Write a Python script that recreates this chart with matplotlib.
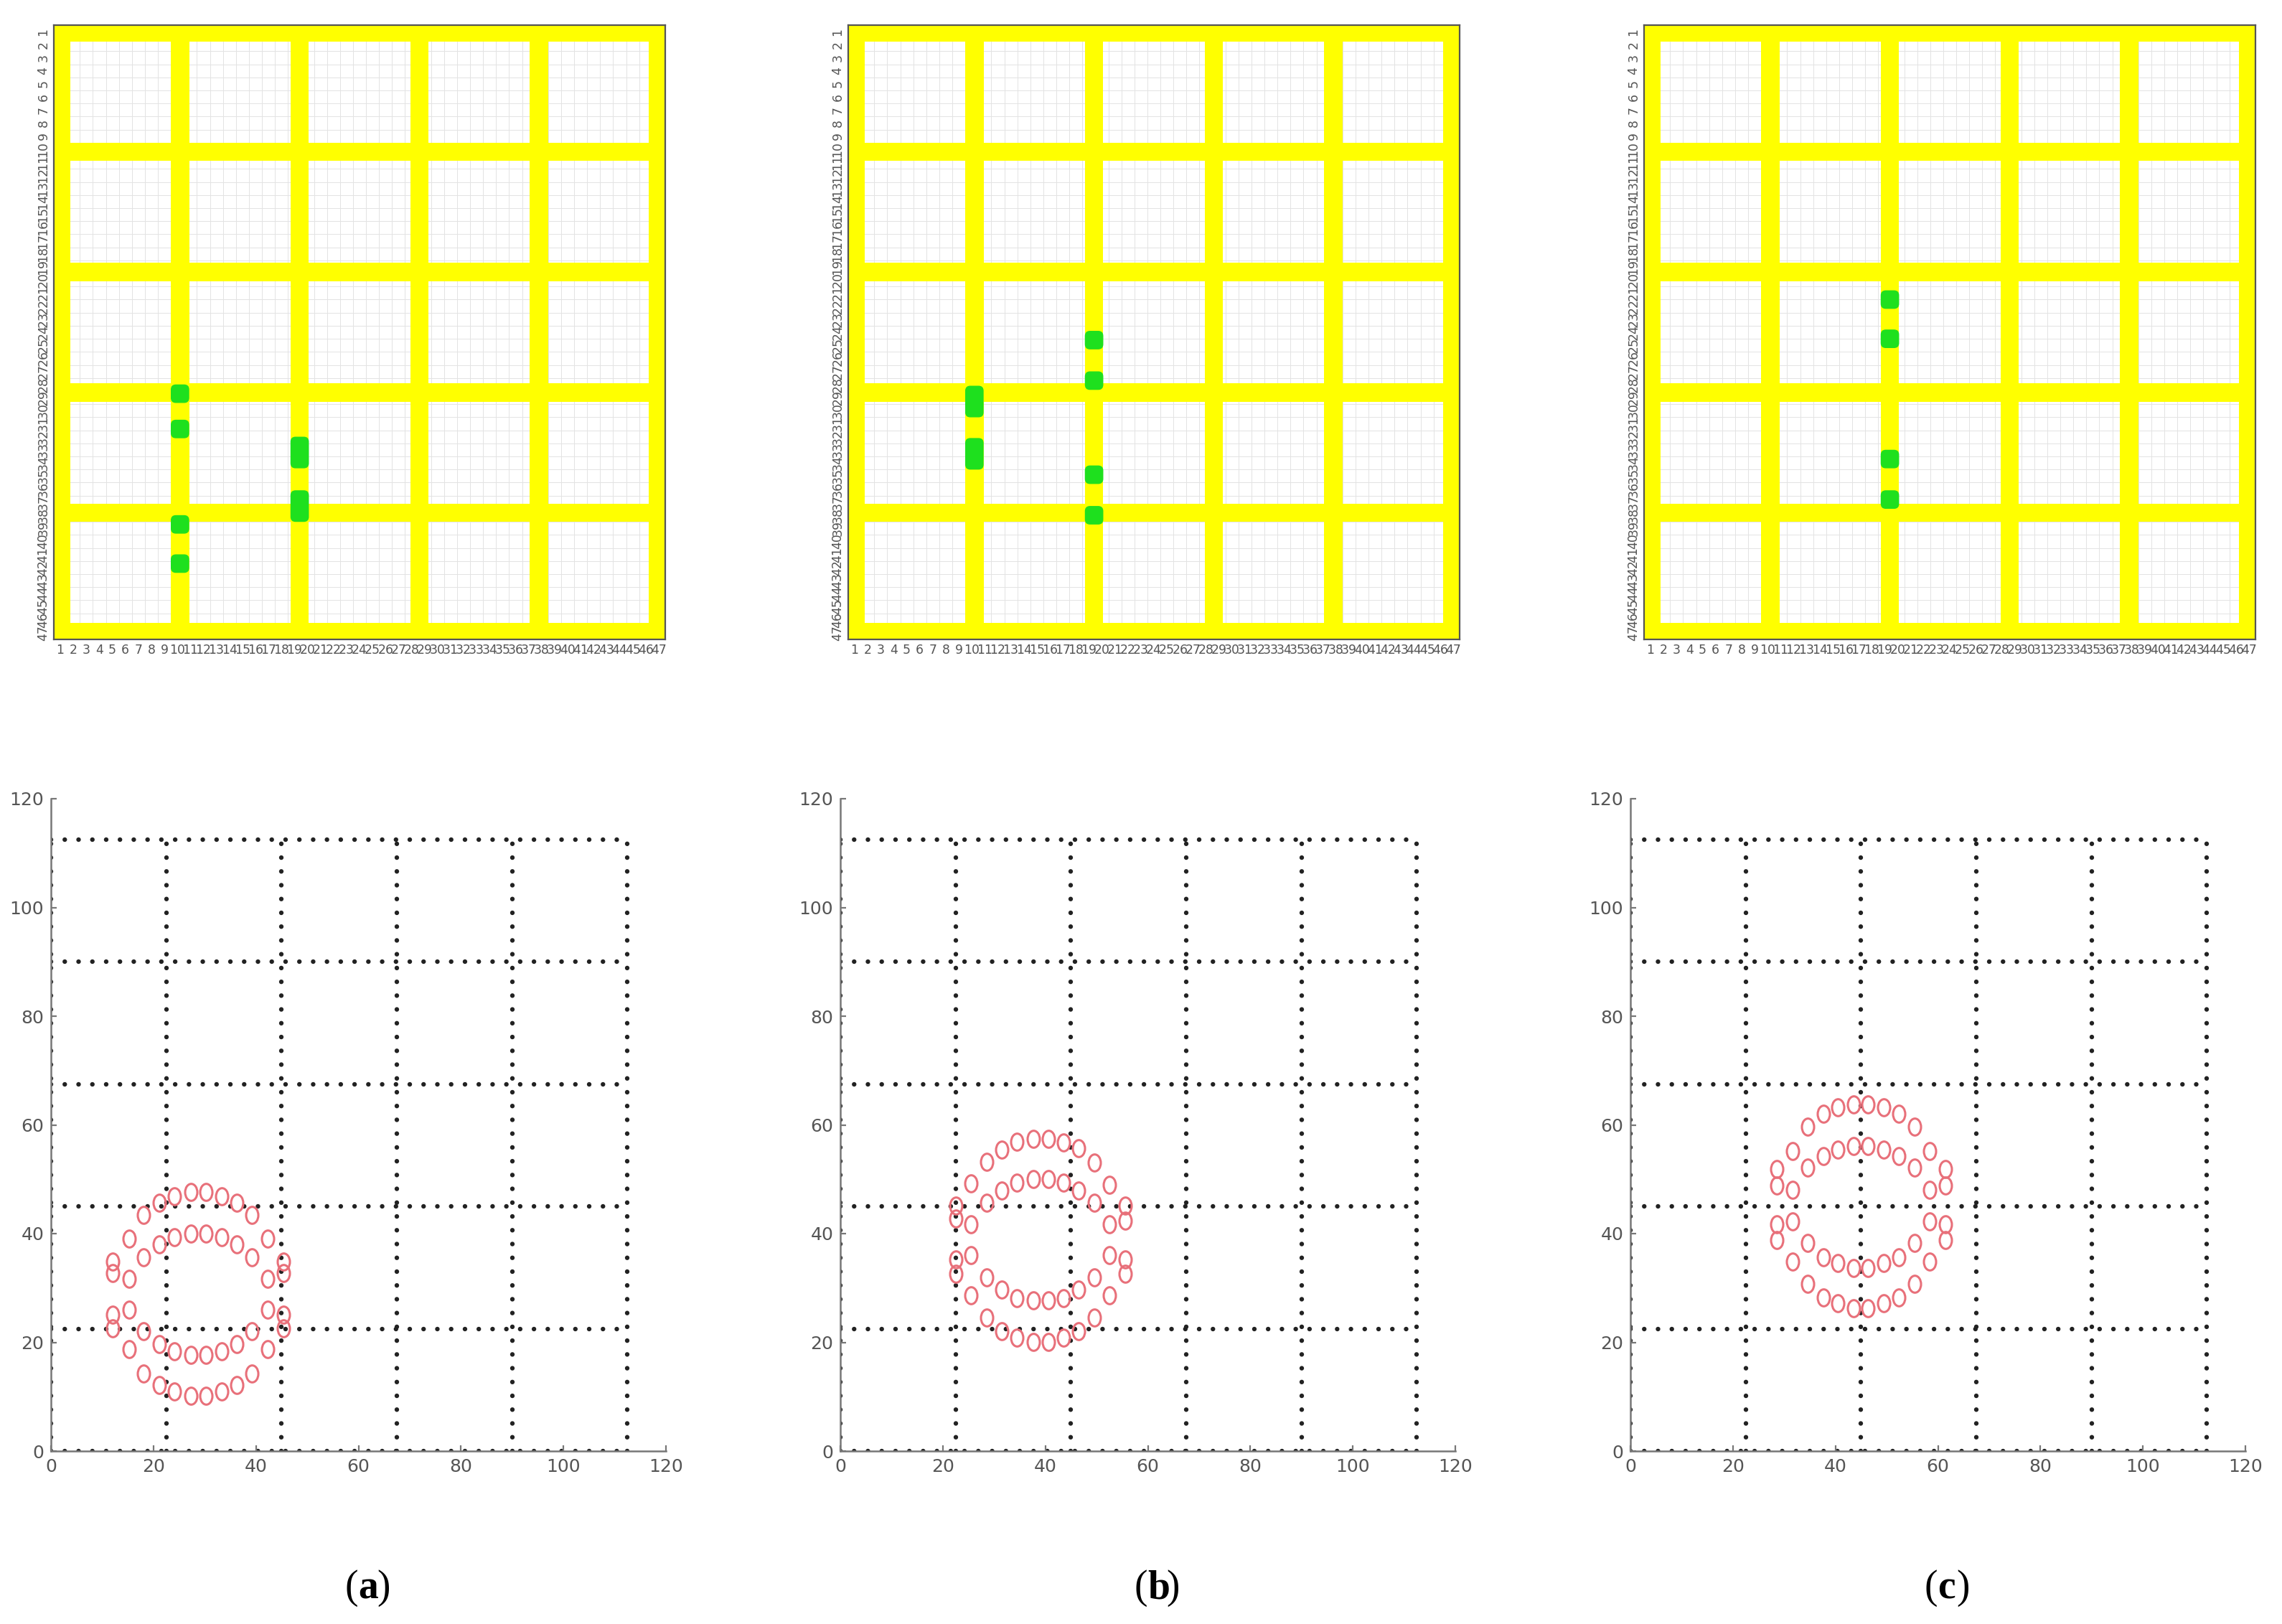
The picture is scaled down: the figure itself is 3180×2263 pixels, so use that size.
import numpy as np
import matplotlib
matplotlib.use('Agg')
import matplotlib.pyplot as plt
from matplotlib.path import Path
from matplotlib.patches import FancyBboxPatch
from matplotlib.transforms import Affine2D

# --- top row: 47 x 47 cell map ---
n_cells = 47
road_pos = [1, 10.2, 19.4, 28.6, 37.8, 47]
# green cells: (column, row centre, length in cells)
green_a = [(10.2, 28.7, 1), (10.2, 31.4, 1), (10.2, 38.7, 1), (10.2, 41.7, 1),
           (19.4, 33.2, 2), (19.4, 37.3, 2)]
green_b = [(10.2, 29.3, 2), (10.2, 33.3, 2),
           (19.4, 24.6, 1), (19.4, 27.7, 1), (19.4, 34.9, 1), (19.4, 38.0, 1)]
green_c = [(19.4, 21.5, 1), (19.4, 24.5, 1), (19.4, 33.7, 1), (19.4, 36.8, 1)]

# --- bottom row: sensor positions (two rings, upper/lower halves) ---
grid_lines = [0, 22.5, 45, 67.5, 90, 112.5]
x_a = [12.1, 15.2, 18.1, 21.1, 24.1, 27.3, 30.3, 33.3, 36.3, 39.2, 42.3, 45.4]
a_A_up = [34.9, 39.1, 43.4, 45.7, 46.8, 47.7, 47.7, 46.8, 45.7, 43.4, 39.1, 34.9]
a_A_lo = [32.8, 26.0, 22.1, 19.7, 18.3, 17.7, 17.7, 18.3, 19.7, 22.1, 26.0, 32.8]
a_B_up = [25.1, 31.7, 35.7, 38.0, 39.3, 40.0, 40.0, 39.3, 38.0, 35.7, 31.7, 25.1]
a_B_lo = [22.6, 18.7, 14.3, 12.1, 10.9, 10.2, 10.2, 10.9, 12.1, 14.3, 18.7, 22.6]

x_b = [22.5, 25.5, 28.6, 31.5, 34.5, 37.6, 40.6, 43.5, 46.5, 49.6, 52.5, 55.6]
b_A_up = [45.2, 49.2, 53.2, 55.4, 56.9, 57.4, 57.4, 56.8, 55.7, 53.1, 49.0, 45.2]
b_A_lo = [42.8, 36.1, 31.9, 29.7, 28.1, 27.7, 27.7, 28.1, 29.7, 31.9, 36.1, 42.4]
b_B_up = [35.2, 41.7, 45.7, 47.9, 49.4, 50.0, 50.0, 49.4, 47.9, 45.7, 41.7, 35.2]
b_B_lo = [32.6, 28.6, 24.6, 22.1, 20.8, 20.1, 20.1, 20.8, 22.1, 24.6, 28.6, 32.6]

x_c = [28.6, 31.6, 34.6, 37.6, 40.5, 43.5, 46.3, 49.4, 52.3, 55.4, 58.4, 61.5]
c_A_up = [51.9, 55.2, 59.7, 62.1, 63.2, 63.7, 63.7, 63.2, 62.1, 59.7, 55.2, 51.9]
c_A_lo = [48.8, 42.3, 38.3, 35.7, 34.6, 33.7, 33.7, 34.6, 35.7, 38.3, 42.3, 48.8]
c_B_up = [41.7, 48.1, 52.1, 54.3, 55.4, 56.1, 56.1, 55.4, 54.3, 52.1, 48.1, 41.7]
c_B_lo = [38.8, 34.8, 30.8, 28.3, 27.2, 26.3, 26.3, 27.2, 28.3, 30.8, 34.8, 38.8]

panel_labels = ['a', 'b', 'c']

YELLOW = '#ffff00'
GREEN = '#1ee01e'
RED = '#e8707a'

W, H = 3180, 2263
fig = plt.figure(figsize=(W / 200, H / 200), dpi=200)

top_left = [75, 1182, 2291]
bot_left = [71, 1171, 2272]
greens = [green_a, green_b, green_c]
rings = [(x_a, [a_A_up, a_A_lo, a_B_up, a_B_lo]),
         (x_b, [b_A_up, b_A_lo, b_B_up, b_B_lo]),
         (x_c, [c_A_up, c_A_lo, c_B_up, c_B_lo])]

ellipse = Path.unit_circle().transformed(Affine2D().scale(0.72, 1.0))
dotted = (0, (0.01, 3.0))

for i in range(3):
    # ---- cell map ----
    ax = fig.add_axes([top_left[i] / W, (H - 891) / H, 852 / W, 856 / H])
    edges = np.arange(0.5, n_cells + 1.5, 1)
    ax.pcolormesh(edges, edges, np.zeros((n_cells, n_cells)), cmap='Greys',
                  vmin=0, vmax=1, edgecolors='#e3e3e3', linewidth=0.3)
    hw = 0.7
    for p in road_pos:
        lo, hi = p - hw, p + hw
        if p == 1:
            lo, hi = 0.5, 1.75
        if p == n_cells:
            lo, hi = n_cells - 0.75, n_cells + 0.5
        ax.axvspan(lo, hi, color=YELLOW, lw=0, zorder=2)
        ax.axhspan(lo, hi, color=YELLOW, lw=0, zorder=2)
    for col, row, ln in greens[i]:
        ax.add_patch(FancyBboxPatch((col - 0.55, row - ln * 0.5 - 0.05), 1.1, ln * 1.0 + 0.1,
                                    boxstyle='round,pad=0.12,rounding_size=0.35',
                                    fc=GREEN, ec=GREEN, lw=0.5, zorder=3))
    ax.set_xlim(0.5, n_cells + 0.5)
    ax.set_ylim(n_cells + 0.5, 0.5)
    ticks = np.arange(1, n_cells + 1)
    ax.set_xticks(ticks)
    ax.set_yticks(ticks)
    ax.set_xticklabels([str(t) for t in ticks], fontsize=6.2, color='#555555')
    ax.set_yticklabels([str(t) for t in ticks], fontsize=6.2, color='#555555', rotation=90, va='center')
    ax.tick_params(direction='in', length=2.5, width=0.8, color='#333333', pad=2,
                   top=True, right=True)
    for s in ax.spines.values():
        s.set_color('#555555')
        s.set_linewidth(0.8)
        s.set_zorder(4)

    # ---- sensor layout ----
    bx = fig.add_axes([bot_left[i] / W, (H - 2022) / H, 857 / W, 909 / H])
    for g in grid_lines:
        bx.plot([g, g], [0, 112.5], color='#222222', lw=2.3, ls=dotted,
                dash_capstyle='round', zorder=1)
        bx.plot([0, 112.5], [g, g], color='#222222', lw=2.3, ls=dotted,
                dash_capstyle='round', zorder=1)
    xs, ys = rings[i]
    for yv in ys:
        bx.plot(xs, yv, ls='none', marker=ellipse, ms=8.5, mfc='none',
                mec=RED, mew=1.1, zorder=3)
    bx.set_xlim(0, 120)
    bx.set_ylim(0, 120)
    bx.set_xticks(np.arange(0, 121, 20))
    bx.set_yticks(np.arange(0, 121, 20))
    bx.tick_params(labelsize=9, labelcolor='#555555', color='#777777',
                   direction='in', length=3, width=0.8)
    for s in ['top', 'right']:
        bx.spines[s].set_visible(False)
    for s in ['left', 'bottom']:
        bx.spines[s].set_color('#777777')
        bx.spines[s].set_linewidth(0.9)

    cx = (bot_left[i] + 428) / W
    fig.text(cx, (H - 2213) / H, '(', fontsize=20, family='Liberation Serif',
             ha='right', va='center')
    fig.text(cx, (H - 2213) / H, panel_labels[i], fontsize=20, family='Liberation Serif',
             weight='bold', ha='left', va='center')
    fig.text(cx + 0.0082, (H - 2213) / H, ')', fontsize=20, family='Liberation Serif',
             ha='left', va='center')

fig.savefig('out.png', dpi=200)
